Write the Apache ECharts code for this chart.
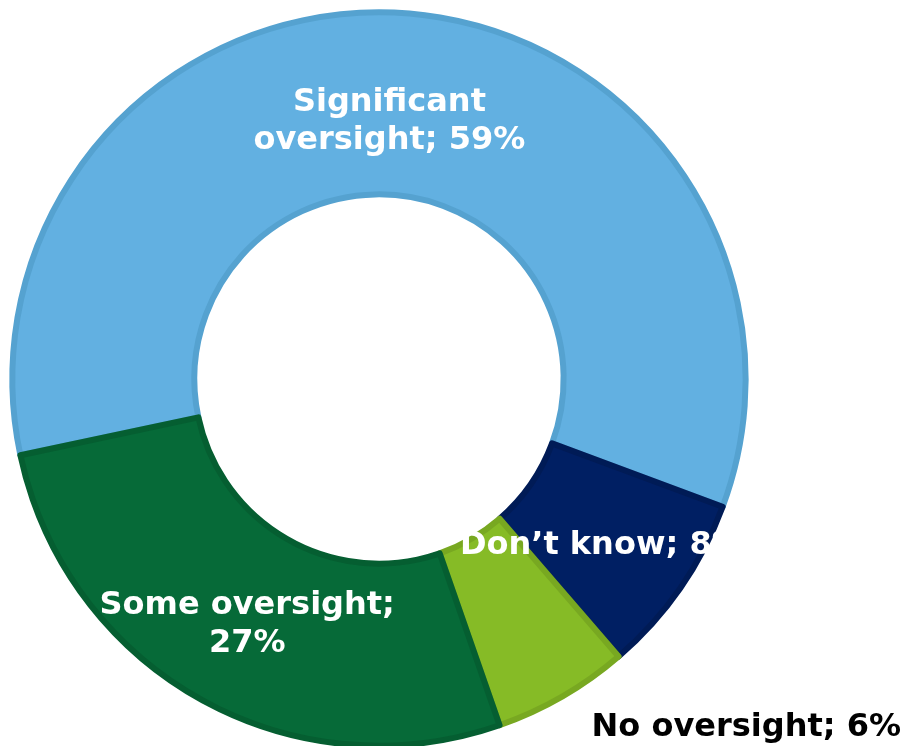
<!DOCTYPE html>
<html>
<head>
<meta charset="utf-8">
<script src="https://cdn.jsdelivr.net/npm/echarts@6/dist/echarts.min.js"></script>
<style>
html, body { margin: 0; padding: 0; background: #fff; }
#echart_pie { width: 910px; height: 746px; }
</style>
</head>
<body>
<div id="echart_pie"></div>
<script>
var categories = ['Significant oversight', 'Don\u2019t know', 'No oversight', 'Some oversight'];
var shares = [59, 8, 6, 27];
var fills = ['#62B0E1', '#001F63', '#86BB26', '#066A38'];
var borders = ['#55A2D0', '#001B56', '#78A821', '#055E31'];
// label nudges (dx, dy) away from the default inside spot
var labelShift = [[-10, 21], [-6, 8], [228, 107], [5, 3]];

var myChart_pie = echarts.init(document.getElementById('echart_pie'));

var pieData = categories.map(function (name, i) {
    var item = {
        value: shares[i],
        name: name,
        itemStyle: { color: fills[i], borderColor: borders[i], borderWidth: 6 }
    };
    if (i === 2) {
        item.label = { color: '#000' };
    }
    return item;
});

var option_pie = {
    animation: false,
    series: [
        {
            name: 'Oversight',
            type: 'pie',
            radius: ['49.5%', '98.3%'],
            center: [379, 379],
            startAngle: 192,
            clockwise: true,
            avoidLabelOverlap: false,
            label: {
                show: true,
                position: 'inside',
                color: '#fff',
                fontFamily: 'DejaVu Sans',
                fontWeight: 'bold',
                fontSize: 32,
                lineHeight: 38,
                formatter: function (p) {
                    if (p.dataIndex === 0) return 'Significant\noversight; ' + p.value + '%';
                    if (p.dataIndex === 3) return 'Some oversight;\n' + p.value + '%';
                    return p.name + '; ' + p.value + '%';
                }
            },
            labelLine: { show: false },
            labelLayout: function (params) {
                var s = labelShift[params.dataIndex];
                return { dx: s[0], dy: s[1] };
            },
            data: pieData
        }
    ]
};
myChart_pie.setOption(option_pie);
</script>
</body>
</html>
